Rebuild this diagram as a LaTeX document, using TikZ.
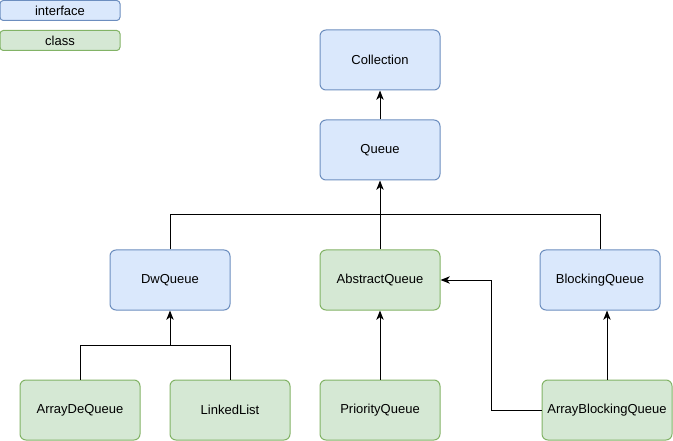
\documentclass[tikz,border=0pt]{standalone}
\usepackage{fontspec}
\setmainfont{Liberation Sans}
\usetikzlibrary{arrows.meta}
\tikzset{every picture/.style={line width=0.75pt}}
\tikzset{
  iface/.style={draw={rgb,255:red,108;green,142;blue,191}, fill={rgb,255:red,218;green,232;blue,252}, rounded corners=4.5pt, minimum width=90pt, minimum height=45pt, inner sep=0pt, font=\fontsize{9.75}{11}\selectfont},
  cls/.style={draw={rgb,255:red,130;green,179;blue,102}, fill={rgb,255:red,213;green,232;blue,212}, rounded corners=4.5pt, minimum width=90pt, minimum height=45pt, inner sep=0pt, font=\fontsize{9.75}{11}\selectfont},
  legend/.style={minimum height=15pt, rounded corners=2.5pt},
  arr/.style={-{Stealth[length=7pt,width=5.5pt,inset=2pt]}},
}

\begin{document}
\begin{tikzpicture}[x=0.75pt,y=0.75pt,yscale=-1,xscale=1]
\useasboundingbox (0,0) rectangle (673,441);

% legend
\node [iface, legend] (lgi) at (60,10.5) {interface};
\node [cls, legend] (lgc) at (60,40.5) {class};

% interfaces
\node [iface] (coll) at (380,60) {Collection};
\node [iface] (queue) at (380,150) {Queue};
\node [iface] (dwq) at (170,280) {DwQueue};
\node [iface] (bq) at (600,280) {BlockingQueue};

% classes
\node [cls] (aq) at (380,280) {AbstractQueue};
\node [cls] (adq) at (80,410) {ArrayDeQueue};
\node [cls] (ll) at (230,410) {LinkedList};
\node [cls] (pq) at (380,410) {PriorityQueue};
\node [cls, minimum width=97.5pt] (abq) at (607,410) {ArrayBlockingQueue};

\coordinate (qjoin) at (380,215);
\coordinate (djoin) at (170,345);

% connectors
\draw [arr] (queue.north) -- (coll.south);
\draw [arr] (aq.north) -- (queue.south);
\draw (dwq.north) |- (qjoin);
\draw (bq.north) |- (qjoin);
\draw [arr] (djoin) -- (dwq.south);
\draw (adq.north) |- (djoin);
\draw (ll.north) |- (djoin);
\draw [arr] (pq.north) -- (aq.south);
\draw [arr] (abq.north) -- (abq.north |- bq.south);
\draw [arr] (abq.west) -- ++(-50,0) |- (aq.east);

\end{tikzpicture}
\end{document}
